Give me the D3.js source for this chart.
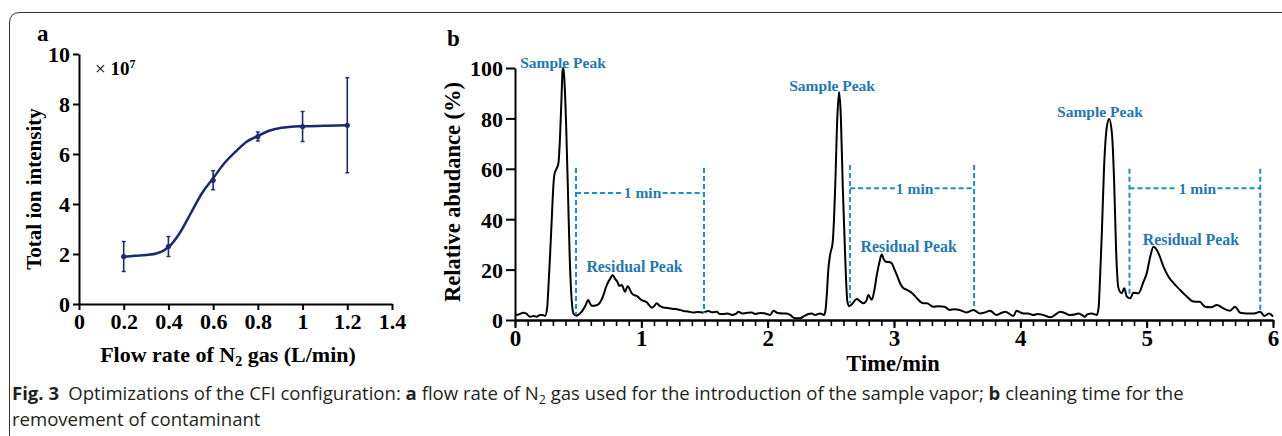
<!DOCTYPE html>
<html>
<head>
<meta charset="utf-8">
<script src="https://cdn.jsdelivr.net/npm/d3@7"></script>
<style>
  body { margin: 0; background: #fff; }
  svg { display: block; }
  .serif { font-family: "Liberation Serif", "Times New Roman", serif; font-weight: bold; }
  .cap { font-family: "Open Sans", "Noto Sans", sans-serif; font-size: 18px; fill: #231f20; }
</style>
</head>
<body>
<svg id="fig" width="1282" height="436"></svg>
<script>
// ---- panel a: flow rate of N2 vs total ion intensity (x 1e7)
const flowRate = [0.2, 0.4, 0.6, 0.8, 1.0, 1.2];
const intensity = [1.9, 2.3, 4.95, 6.7, 7.1, 7.15];
const intensityErr = [0.6, 0.4, 0.38, 0.18, 0.6, 1.9];
// fitted curve
const fitX = [0.2, 0.25, 0.3, 0.35, 0.4, 0.45, 0.5, 0.55, 0.6, 0.65, 0.7, 0.75, 0.8, 0.85, 0.9, 1.0, 1.1, 1.2];
const fitY = [1.89, 1.93, 1.96, 2.03, 2.27, 2.83, 3.63, 4.43, 5.03, 5.63, 6.09, 6.49, 6.72, 6.93, 7.04, 7.11, 7.13, 7.15];
const aTicksX = [0, 0.2, 0.4, 0.6, 0.8, 1, 1.2, 1.4];
const aTicksY = [0, 2, 4, 6, 8, 10];

// ---- panel b: chromatogram
const time = [0, 0.03, 0.066, 0.09, 0.119, 0.15, 0.17, 0.198, 0.22, 0.238, 0.255, 0.264, 0.277, 0.29, 0.3, 0.311, 0.328, 0.343, 0.356, 0.368, 0.377, 0.383, 0.39, 0.404, 0.422, 0.433, 0.443, 0.455, 0.462, 0.488, 0.5, 0.528, 0.555, 0.581, 0.595, 0.607, 0.63, 0.66, 0.68, 0.7, 0.72, 0.739, 0.755, 0.773, 0.79, 0.81, 0.825, 0.845, 0.871, 0.892, 0.91, 0.924, 0.945, 0.963, 0.985, 1.003, 1.025, 1.043, 1.06, 1.082, 1.1, 1.122, 1.145, 1.174, 1.21, 1.253, 1.29, 1.333, 1.37, 1.41, 1.45, 1.49, 1.53, 1.56, 1.597, 1.62, 1.65, 1.68, 1.72, 1.75, 1.768, 1.8, 1.83, 1.874, 1.9, 1.94, 1.993, 2.02, 2.045, 2.08, 2.124, 2.15, 2.177, 2.217, 2.257, 2.29, 2.322, 2.35, 2.375, 2.415, 2.447, 2.458, 2.468, 2.48, 2.494, 2.515, 2.525, 2.534, 2.552, 2.565, 2.579, 2.595, 2.613, 2.631, 2.645, 2.665, 2.705, 2.73, 2.758, 2.78, 2.797, 2.824, 2.845, 2.864, 2.885, 2.903, 2.92, 2.937, 2.96, 2.982, 3.0, 3.022, 3.048, 3.075, 3.11, 3.14, 3.175, 3.207, 3.235, 3.26, 3.31, 3.35, 3.4, 3.44, 3.48, 3.52, 3.576, 3.63, 3.68, 3.72, 3.76, 3.81, 3.85, 3.88, 3.945, 3.97, 4.0, 4.025, 4.06, 4.1, 4.14, 4.18, 4.24, 4.28, 4.315, 4.35, 4.39, 4.43, 4.46, 4.49, 4.51, 4.53, 4.566, 4.605, 4.62, 4.626, 4.645, 4.663, 4.685, 4.703, 4.725, 4.743, 4.758, 4.777, 4.803, 4.822, 4.843, 4.869, 4.895, 4.935, 4.975, 5.0, 5.028, 5.054, 5.07, 5.094, 5.133, 5.173, 5.213, 5.265, 5.318, 5.37, 5.42, 5.463, 5.51, 5.556, 5.608, 5.66, 5.7, 5.74, 5.793, 5.85, 5.9, 5.93, 5.97, 6.0];
const abundance = [2.0, 2.2, 2.9, 2.5, 1.3, 1.6, 1.3, 2.0, 2.0, 1.6, 5, 12.6, 25, 39, 50, 57.5, 60, 62, 72, 88, 99.2, 100, 96, 78.7, 45.6, 25, 12.6, 4.5, 2.6, 1.7, 2.0, 3.3, 5.5, 7.9, 6.5, 5.7, 5.7, 6.2, 7.5, 9.9, 13, 15.2, 16.5, 17.9, 16.5, 15.2, 13.5, 13.9, 11.2, 13.5, 12, 10.6, 9.8, 9.6, 8.6, 7.9, 7.5, 7.0, 6, 4.9, 5.4, 6.6, 5.6, 5.0, 4.8, 4.4, 4.2, 3.6, 3.4, 3.0, 3.2, 3.0, 3.6, 3.1, 3.3, 2.4, 2.4, 2.6, 2.0, 2.5, 3.3, 2.6, 2.8, 3.0, 2.4, 2.8, 2.4, 2.0, 3.7, 2.8, 2.6, 2.6, 2.0, 0.7, 0.7, 1.6, 2.4, 2.6, 2.0, 2.6, 2.0, 4, 9.9, 20, 25.8, 31, 40, 52, 81, 90.5, 81, 52, 25.8, 7.3, 5.5, 6.2, 8.3, 7.5, 6.6, 7.5, 9.9, 8.0, 12, 17.9, 23, 26.1, 24, 23.1, 23, 22.5, 20.5, 17.9, 14.6, 12.6, 11.8, 10.8, 9.0, 7.3, 6.6, 6.6, 5.3, 5.5, 5.3, 4.0, 4.3, 4.0, 3.0, 4.0, 2.6, 3.0, 3.7, 2.0, 2.8, 3.3, 1.6, 3.7, 3.0, 2.6, 2.6, 2.0, 2.4, 2.0, 1.1, 2.2, 3.3, 2.8, 2.0, 2.2, 2.6, 1.9, 1.3, 2.2, 2.6, 2.0, 5, 10.6, 34.4, 60.8, 76.7, 79.8, 74, 54.2, 27.8, 12.6, 10.6, 12.6, 9.3, 8.6, 10.8, 10.6, 15.2, 18.5, 25.1, 29.1, 28.5, 26.4, 21.2, 17.2, 14.6, 11.9, 9.3, 7.3, 7.2, 5.3, 5.1, 6.0, 4.6, 3.7, 5.3, 2.9, 2.6, 2.6, 3.3, 1.6, 2.6, 1.3];
const bTicksX = [0, 1, 2, 3, 4, 5, 6];
const bTicksY = [0, 20, 40, 60, 80, 100];

// annotations (data units)
const sampleLabelT = [0.38, 2.51, 4.63];
const sampleLabelV = [100, 90.9, 80.5];
const residualLabelT = [0.946, 3.116, 5.35];
const residualLabelV = [19, 27, 29.8];
const winStart = [0.483, 2.652, 4.864];
const winEnd = [1.496, 3.634, 5.899];
const winTop = [60.3, 61.5, 60];
const winMid = [50.4, 52.3, 52.3];
const winFootStart = [2, 6.7, 9.3];
const winFootEnd = [2.8, 4.7, 3.3];

const svg = d3.select("#fig");
const NAVY = "#1c2a6e";
const BLUE_TXT = "#1f78b4";
const BLUE_LN = "#1b90d0";

// frame of the figure card
svg.append("path")
  .attr("d", "M9.5,436 L9.5,23 Q9.5,12.5 20,12.5 L1282,12.5")
  .attr("fill", "none")
  .attr("stroke", "#333")
  .attr("stroke-width", 1);

function styleAxis(g, fs) {
  g.attr("font-family", null).attr("font-size", null);
  g.select(".domain").attr("stroke", "#000").attr("stroke-width", 2);
  g.selectAll(".tick line").attr("stroke", "#000").attr("stroke-width", 2);
  g.selectAll(".tick text")
    .attr("class", "serif")
    .attr("fill", "#000")
    .style("font-size", fs + "px");
}

// ************** panel a *****************
const xa = d3.scaleLinear().domain([0, 1.4]).range([79, 392]);
const ya = d3.scaleLinear().domain([0, 10]).range([304, 54]);

const gax = svg.append("g")
  .attr("transform", "translate(0," + ya(0) + ")")
  .call(d3.axisBottom(xa).tickValues(aTicksX).tickSize(6).tickSizeOuter(0).tickPadding(3)
    .tickFormat(d => String(+d.toFixed(1))));
styleAxis(gax, 22);

const gay = svg.append("g")
  .attr("transform", "translate(" + xa(0) + ",0)")
  .call(d3.axisLeft(ya).tickValues(aTicksY).tickSize(6).tickSizeOuter(0).tickPadding(3));
styleAxis(gay, 22);
gay.selectAll(".tick text").attr("dy", "0.36em");

// fitted curve
svg.append("path")
  .datum(d3.zip(fitX, fitY))
  .attr("fill", "none")
  .attr("stroke", NAVY)
  .attr("stroke-width", 2.5)
  .attr("d", d3.line().x(d => xa(d[0])).y(d => ya(d[1])).curve(d3.curveMonotoneX));

// error bars + points
const pts = flowRate.map((f, i) => ({ f, v: intensity[i], e: intensityErr[i] }));
const eb = svg.append("g").selectAll("g").data(pts).join("g");
eb.append("line")
  .attr("x1", d => xa(d.f)).attr("x2", d => xa(d.f))
  .attr("y1", d => ya(d.v - d.e)).attr("y2", d => ya(d.v + d.e))
  .attr("stroke", NAVY).attr("stroke-width", 1.6);
[-1, 1].forEach(s => {
  eb.append("line")
    .attr("x1", d => xa(d.f) - 2).attr("x2", d => xa(d.f) + 2)
    .attr("y1", d => ya(d.v + s * d.e)).attr("y2", d => ya(d.v + s * d.e))
    .attr("stroke", NAVY).attr("stroke-width", 1.4);
});
eb.append("circle")
  .attr("cx", d => xa(d.f)).attr("cy", d => ya(d.v))
  .attr("r", 2.6).attr("fill", NAVY);

// labels panel a
svg.append("text").attr("class", "serif").attr("x", 37).attr("y", 41)
  .style("font-size", "23px").text("a");

const mult = svg.append("text").attr("class", "serif").attr("x", 95).attr("y", 75)
  .style("font-size", "19px");
mult.append("tspan").style("font-weight", "normal").text("× ");
mult.append("tspan").text("10");
mult.append("tspan").attr("dy", -7).style("font-size", "12px").text("7");

svg.append("text").attr("class", "serif")
  .attr("transform", "translate(41,189) rotate(-90)")
  .attr("text-anchor", "middle")
  .style("font-size", "21px")
  .text("Total ion intensity");

const xta = svg.append("text").attr("class", "serif")
  .attr("x", 228).attr("y", 362)
  .attr("text-anchor", "middle")
  .style("font-size", "22px");
xta.append("tspan").text("Flow rate of N");
xta.append("tspan").attr("dy", 4).style("font-size", "14px").text("2");
xta.append("tspan").attr("dy", -4).text(" gas (L/min)");

// ************** panel b *****************
const xb = d3.scaleLinear().domain([0, 6]).range([515, 1273]);
const yb = d3.scaleLinear().domain([0, 100]).range([320, 68]);

// minor ticks every 0.1 min
const gminor = svg.append("g")
  .attr("transform", "translate(0," + yb(0) + ")")
  .call(d3.axisBottom(xb).tickValues(d3.range(0, 61).map(i => i / 10)).tickSize(6).tickSizeOuter(0).tickFormat(""));
styleAxis(gminor, 22);
gminor.selectAll(".tick line").attr("stroke-width", 1.6);

const gbx = svg.append("g")
  .attr("transform", "translate(0," + yb(0) + ")")
  .call(d3.axisBottom(xb).tickValues(bTicksX).tickSize(8).tickSizeOuter(0).tickPadding(2)
    .tickFormat(d3.format("d")));
styleAxis(gbx, 23);

const gby = svg.append("g")
  .attr("transform", "translate(" + xb(0) + ",0)")
  .call(d3.axisLeft(yb).tickValues(bTicksY).tickSize(9).tickSizeOuter(0).tickPadding(3));
styleAxis(gby, 22);
gby.selectAll(".tick text").attr("dy", "0.36em");

// chromatogram
svg.append("path")
  .datum(d3.zip(time, abundance))
  .attr("fill", "none")
  .attr("stroke", "#000")
  .attr("stroke-width", 2)
  .attr("stroke-linejoin", "round")
  .attr("d", d3.line().x(d => xb(d[0])).y(d => yb(d[1])).curve(d3.curveMonotoneX));

// 1 min windows
const ann = svg.append("g");
winStart.forEach((s, i) => {
  const e = winEnd[i];
  const dash = { stroke: BLUE_LN, "stroke-width": 2, "stroke-dasharray": "5,3", fill: "none" };
  const vl = (t, foot) => {
    const l = ann.append("line")
      .attr("x1", xb(t)).attr("x2", xb(t))
      .attr("y1", yb(winTop[i])).attr("y2", yb(foot));
    Object.entries(dash).forEach(([k, v]) => l.attr(k, v));
  };
  vl(s, winFootStart[i]);
  vl(e, winFootEnd[i]);

  const mid = (s + e) / 2 + 0.02;
  const txt = ann.append("text").attr("class", "serif")
    .attr("x", xb(mid)).attr("y", yb(winMid[i]) + 5.5)
    .attr("text-anchor", "middle")
    .attr("fill", BLUE_TXT)
    .style("font-size", "15.5px")
    .text("1 min");
  const bb = txt.node().getBBox();
  [[xb(s), bb.x - 1], [bb.x + bb.width + 1, xb(e)]].forEach(([a, b]) => {
    const l = ann.append("line")
      .attr("x1", a).attr("x2", b)
      .attr("y1", yb(winMid[i])).attr("y2", yb(winMid[i]));
    Object.entries(dash).forEach(([k, v]) => l.attr(k, v));
  });
});

// peak labels
sampleLabelT.forEach((t, i) => {
  ann.append("text").attr("class", "serif")
    .attr("x", xb(t)).attr("y", yb(sampleLabelV[i]))
    .attr("text-anchor", "middle")
    .attr("fill", BLUE_TXT)
    .style("font-size", "15.5px")
    .text("Sample Peak");
});
residualLabelT.forEach((t, i) => {
  ann.append("text").attr("class", "serif")
    .attr("x", xb(t)).attr("y", yb(residualLabelV[i]))
    .attr("text-anchor", "middle")
    .attr("fill", BLUE_TXT)
    .style("font-size", "15.8px")
    .text("Residual Peak");
});

svg.append("text").attr("class", "serif").attr("x", 447).attr("y", 46)
  .style("font-size", "23px").text("b");

svg.append("text").attr("class", "serif")
  .attr("transform", "translate(460,192) rotate(-90)")
  .attr("text-anchor", "middle")
  .style("font-size", "22.5px")
  .text("Relative abudance (%)");

svg.append("text").attr("class", "serif")
  .attr("x", 893).attr("y", 371)
  .attr("text-anchor", "middle")
  .style("font-size", "22.5px")
  .text("Time/min");

// ************** caption *****************
const cap = svg.append("g").attr("class", "cap");
const l1 = cap.append("text").attr("x", 0).attr("y", 0);
l1.append("tspan").style("font-weight", "bold").text("Fig. 3");
l1.append("tspan").text("\u2002Optimizations of the CFI configuration: ");
l1.append("tspan").style("font-weight", "bold").text("a");
l1.append("tspan").text(" flow rate of N");
l1.append("tspan").attr("dy", 3.5).style("font-size", "12px").text("2");
l1.append("tspan").attr("dy", -3.5).text(" gas used for the introduction of the sample vapor; ");
l1.append("tspan").style("font-weight", "bold").text("b");
l1.append("tspan").text(" cleaning time for the");
cap.append("text").attr("x", 0).attr("y", 26).text("removement of contaminant");

// squeeze the caption to the narrow face width of the original
const w1 = l1.node().getBBox().width;
const sx = (1185 - 12) / w1;
cap.attr("transform", "translate(12,400) scale(" + sx + ",1)");
</script>
</body>
</html>
